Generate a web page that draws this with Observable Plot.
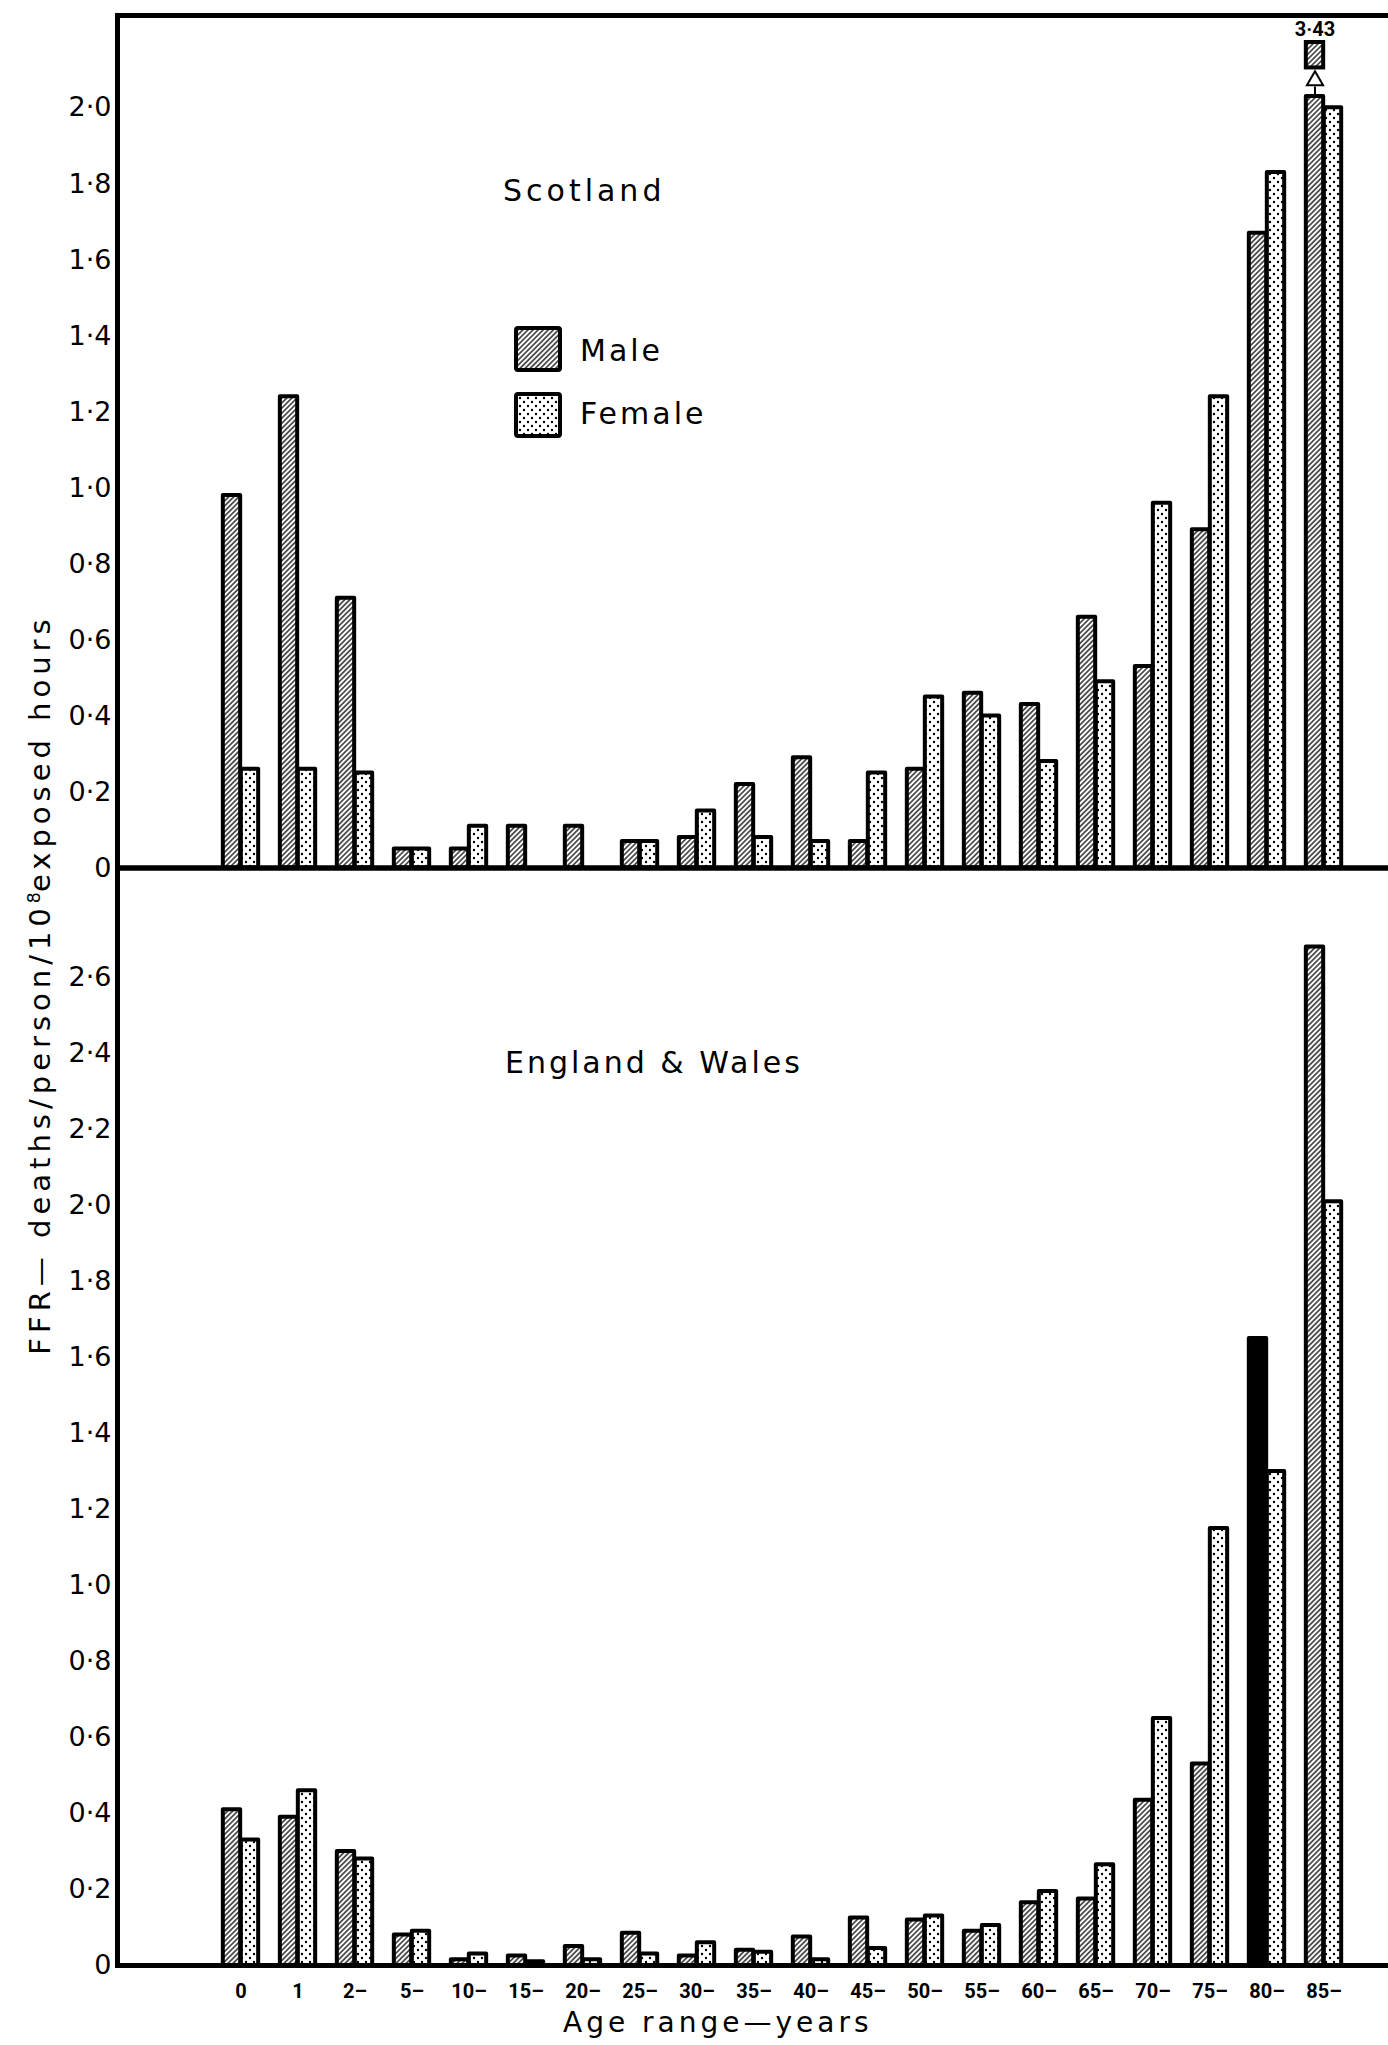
<!DOCTYPE html>
<html>
<head>
<meta charset="utf-8">
<script src="https://cdn.jsdelivr.net/npm/d3@7"></script>
<script src="https://cdn.jsdelivr.net/npm/@observablehq/plot@0.6"></script>
<style>
  html, body { margin: 0; padding: 0; background: #fff; overflow: hidden; }
  #wrap { position: relative; width: 1388px; height: 2045px; font-family: "DejaVu Sans", sans-serif; color: #000; }
  .abs { position: absolute; white-space: nowrap; line-height: 1; }
  .ttl { font-size: 30px; letter-spacing: 3px; }
  .sw { position: absolute; }
</style>
</head>
<body>
<svg width="0" height="0" style="position:absolute">
  <defs>
    <pattern id="hatchM" patternUnits="userSpaceOnUse" width="3.6" height="3.6" patternTransform="rotate(45)">
      <rect width="3.6" height="3.6" fill="white"></rect>
      <line x1="1.8" y1="0" x2="1.8" y2="3.6" stroke="black" stroke-width="1.25"></line>
    </pattern>
    <pattern id="dotsF" patternUnits="userSpaceOnUse" width="8" height="8">
      <rect width="8" height="8" fill="white"></rect>
      <circle cx="2" cy="2" r="1.2" fill="black"></circle>
      <circle cx="6" cy="6" r="1.2" fill="black"></circle>
    </pattern>
  </defs>
</svg>
<div id="wrap">
  <div class="abs ttl" style="left:503px; top:176px; letter-spacing:4px;">Scotland</div>
  <svg class="sw" style="left:514px; top:326px;" width="48" height="46"><rect x="2" y="2" width="44" height="42" rx="2" fill="url(#hatchM)" stroke="black" stroke-width="4"></rect></svg>
  <svg class="sw" style="left:514px; top:392px;" width="48" height="46"><rect x="2" y="2" width="44" height="42" rx="2" fill="url(#dotsF)" stroke="black" stroke-width="4"></rect></svg>
  <div class="abs ttl" style="left:580px; top:336px;">Male</div>
  <div class="abs ttl" style="left:580px; top:399px;">Female</div>
  <div class="abs ttl" style="left:505px; top:1048px;">England &amp; Wales</div>
  <div class="abs" style="left:563px; top:2009px; font-size:28px; letter-spacing:4px;">Age range—years</div>
  <div class="abs" style="left:-410px; top:970px; width:900px; height:29px; font-size:29px; letter-spacing:5px; text-align:center; transform:rotate(-90deg); transform-origin:center;">FFR— deaths/person/10<sup style="font-size:0.6em; vertical-align:0.6em; letter-spacing:0">8</sup>exposed hours</div>
</div>
<script>
// ---- data ----
const ages = ["0", "1", "2–", "5–", "10–", "15–", "20–", "25–", "30–", "35–", "40–", "45–", "50–", "55–", "60–", "65–", "70–", "75–", "80–", "85–"];

const scotlandMale   = [0.98, 1.24, 0.71, 0.05, 0.05, 0.11, 0.11, 0.07, 0.08, 0.22, 0.29, 0.07, 0.26, 0.46, 0.43, 0.66, 0.53, 0.89, 1.67, 3.43];
const scotlandFemale = [0.26, 0.26, 0.25, 0.05, 0.11, 0, 0, 0.07, 0.15, 0.08, 0.07, 0.25, 0.45, 0.40, 0.28, 0.49, 0.96, 1.24, 1.83, 2.00];

const ewMale   = [0.41, 0.39, 0.30, 0.08, 0.015, 0.025, 0.05, 0.085, 0.025, 0.04, 0.075, 0.125, 0.12, 0.09, 0.165, 0.175, 0.435, 0.53, 1.65, 2.68];
const ewFemale = [0.33, 0.46, 0.28, 0.09, 0.03, 0.01, 0.015, 0.03, 0.06, 0.035, 0.015, 0.045, 0.13, 0.105, 0.195, 0.265, 0.65, 1.15, 1.30, 2.01];

const yTicksTop    = [0, 0.2, 0.4, 0.6, 0.8, 1.0, 1.2, 1.4, 1.6, 1.8, 2.0];
const yTicksBottom = [0, 0.2, 0.4, 0.6, 0.8, 1.0, 1.2, 1.4, 1.6, 1.8, 2.0, 2.2, 2.4, 2.6];
const yMaxTop = 2.243;
const yMaxBottom = 2.888;

// ---- drawing settings ----
const xRange = [205.9, 1358.9];
const step = (xRange[1] - xRange[0]) / ages.length;
const half = step / 2;
const barInset = half - 18;
const brk = {barTop: 2.03, stemTop: 2.055, arrow: 2.072, capBottom: 2.105, capTop: 2.172, label: 2.205};
const inked = {panel: "England & Wales", age: "80–"}; // bar printed solid black in the original

const fmt = d => d === 0 ? "0" : d.toFixed(1).replace(".", "·");

function tidy(panel, male, female) {
  return ages.flatMap((age, i) => [
    {panel, age, sex: "Male", value: male[i]},
    {panel, age, sex: "Female", value: female[i]}
  ]);
}

function panelMarks(rows, yMax) {
  const isInked = d => d.panel === inked.panel && d.age === inked.age;
  const yv = d => d.value > yMax ? brk.barTop : d.value;
  const female = rows.filter(d => d.sex === "Female" && d.value > 0);
  const male = rows.filter(d => d.sex === "Male" && d.value > 0);
  const broken = male.filter(d => d.value > yMax);
  const common = {x: "age", y: yv, stroke: "black", strokeWidth: 4, strokeLinejoin: "round"};
  return [
    Plot.barY(female, {...common, fill: "url(#dotsF)", insetLeft: half, insetRight: barInset}),
    Plot.barY(male.filter(d => !isInked(d)), {...common, fill: "url(#hatchM)", insetLeft: barInset, insetRight: half}),
    Plot.barY(male.filter(isInked), {...common, fill: "black", insetLeft: barInset, insetRight: half}),
    Plot.ruleX(broken, {x: "age", y1: () => brk.barTop, y2: () => brk.stemTop, dx: -9, stroke: "black", strokeWidth: 2}),
    Plot.dot(broken, {x: "age", y: () => brk.arrow, dx: -9, symbol: "triangle", r: 6, fill: "white", stroke: "black", strokeWidth: 2}),
    Plot.barY(broken, {x: "age", y1: () => brk.capBottom, y2: () => brk.capTop, fill: "url(#hatchM)", stroke: "black", strokeWidth: 4, insetLeft: barInset, insetRight: half}),
    Plot.text(broken, {x: "age", y: () => brk.label, dx: -9, text: d => String(d.value).replace(".", "·"), fontSize: 20, fontWeight: "bold", fontFamily: "Roboto, sans-serif"}),
    Plot.frame({stroke: "black", strokeWidth: 5})
  ];
}

const topRows = tidy("Scotland", scotlandMale, scotlandFemale);
const bottomRows = tidy("England & Wales", ewMale, ewFemale);

const topPlot = Plot.plot({
  width: 1388, height: 870,
  marginLeft: 117, marginRight: -8, marginTop: 15, marginBottom: 2.5,
  style: {background: "transparent", overflow: "visible", maxWidth: "none"},
  x: {type: "band", domain: ages, range: xRange, padding: 0, axis: null},
  y: {domain: [0, yMaxTop]},
  marks: [
    Plot.axisY(yTicksTop, {tickFormat: fmt, tickSize: 0, tickPadding: 6, fontSize: 27, fontFamily: "DejaVu Sans, sans-serif", label: null}),
    ...panelMarks(topRows, yMaxTop)
  ]
});

const bottomPlot = Plot.plot({
  width: 1388, height: 1185,
  marginLeft: 117, marginRight: -8, marginTop: 7.5, marginBottom: 80,
  style: {background: "transparent", overflow: "visible", maxWidth: "none"},
  x: {type: "band", domain: ages, range: xRange, padding: 0},
  y: {domain: [0, yMaxBottom]},
  marks: [
    Plot.axisY(yTicksBottom, {tickFormat: fmt, tickSize: 0, tickPadding: 6, fontSize: 27, fontFamily: "DejaVu Sans, sans-serif", label: null}),
    Plot.axisX({tickSize: 0, tickPadding: 18, fontSize: 20, fontWeight: "bold", fontFamily: "Roboto, sans-serif", label: null}),
    ...panelMarks(bottomRows, yMaxBottom)
  ]
});

const wrap = document.getElementById("wrap");
for (const [el, top] of [[topPlot, 0], [bottomPlot, 860]]) {
  el.style.position = "absolute";
  el.style.left = "0px";
  el.style.top = top + "px";
  wrap.appendChild(el);
}
</script>
</body>
</html>
